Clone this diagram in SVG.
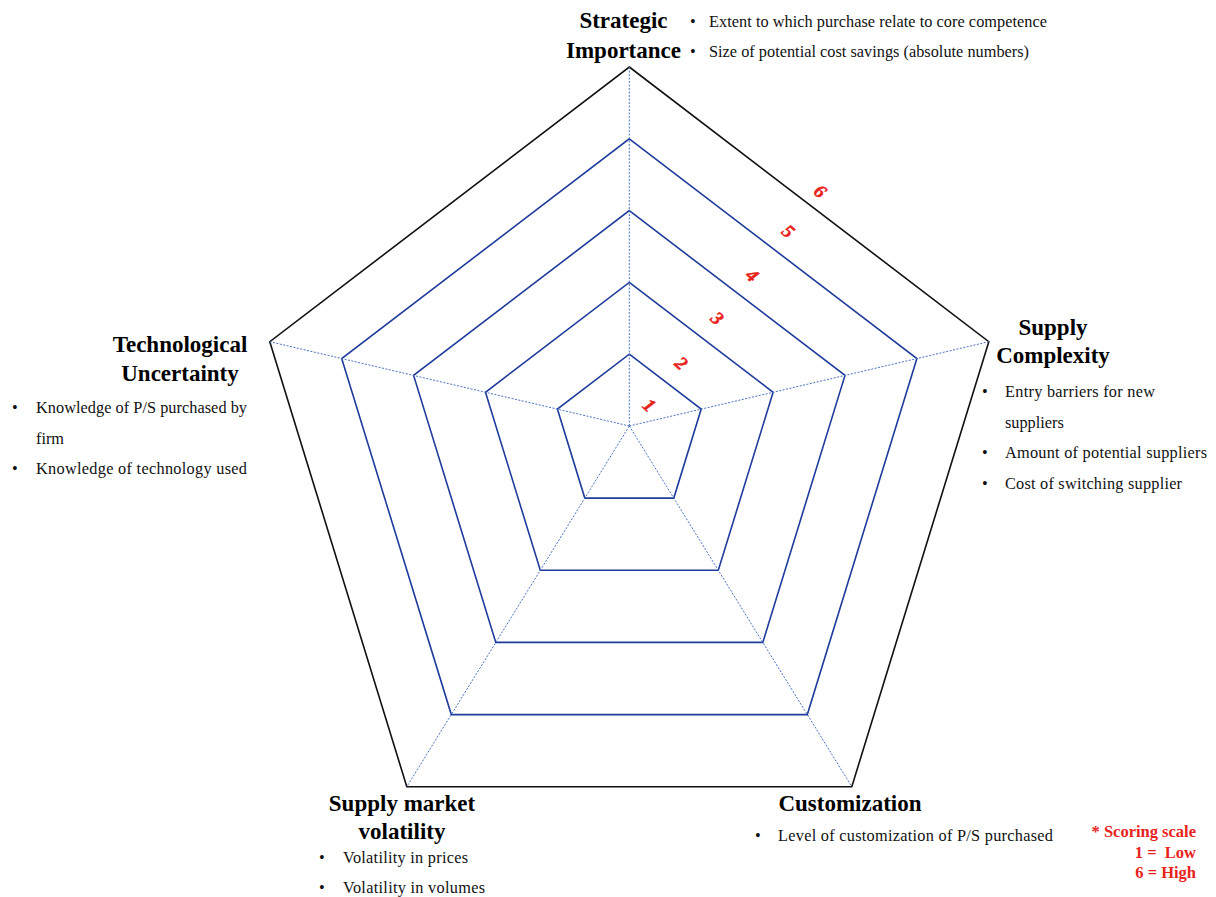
<svg xmlns="http://www.w3.org/2000/svg" width="1216" height="897" viewBox="0 0 1216 897">
<style>
.ring{fill:none;stroke:#1f3c9c;stroke-width:1.6}
.outer{fill:none;stroke:#111;stroke-width:1.6}
.spoke{stroke:#4a72c2;stroke-width:1;stroke-dasharray:2 1.5}
.title{font-family:"Liberation Serif","Times New Roman",serif;font-weight:bold;font-size:23px;fill:#000;text-anchor:middle}
.item{font-family:"Liberation Serif","Times New Roman",serif;font-size:16.3px;fill:#111}
.num{font-family:"Liberation Serif","Times New Roman",serif;font-weight:bold;font-style:italic;font-size:19px;fill:#e8231b;stroke:#e8231b;stroke-width:0.5;text-anchor:middle}
.scale{font-family:"Liberation Serif","Times New Roman",serif;font-weight:bold;font-size:16.5px;fill:#e8231b;text-anchor:end}
</style>
<rect width="1216" height="897" fill="#fff"/>
<g id="chart">
<polygon class="ring" points="629.3,354.2 701.2,409.1 673.8,498.1 584.8,498.1 557.4,409.1"/>
<polygon class="ring" points="629.3,282.4 773.1,392.3 718.3,570.3 540.3,570.3 485.5,392.3"/>
<polygon class="ring" points="629.3,210.6 845.0,375.4 762.8,642.4 495.8,642.4 413.6,375.4"/>
<polygon class="ring" points="629.3,138.8 916.9,358.6 807.3,714.6 451.3,714.6 341.7,358.6"/>
<polygon class="outer" points="629.3,67 988.8,341.7 851.8,786.7 406.8,786.7 269.8,341.7"/>
</g>
<g id="connectors">
<line class="spoke" x1="629.3" y1="426" x2="629.3" y2="67"/>
<line class="spoke" x1="629.3" y1="426" x2="988.8" y2="341.7"/>
<line class="spoke" x1="629.3" y1="426" x2="851.8" y2="786.7"/>
<line class="spoke" x1="629.3" y1="426" x2="406.8" y2="786.7"/>
<line class="spoke" x1="629.3" y1="426" x2="269.8" y2="341.7"/>
</g>
<g id="scale-numbers">
<text class="num" transform="translate(645,410) rotate(42)">1</text>
<text class="num" transform="translate(677,368) rotate(42)">2</text>
<text class="num" transform="translate(713,323) rotate(42)">3</text>
<text class="num" transform="translate(748,280) rotate(42)">4</text>
<text class="num" transform="translate(784,236) rotate(42)">5</text>
<text class="num" transform="translate(816,196) rotate(42)">6</text>
</g>
<g id="strategic-importance">
<text class="title" x="623.5" y="28">Strategic</text>
<text class="title" x="623.5" y="57.5">Importance</text>
<text class="item" x="690" y="26.5">•</text>
<text class="item" x="709" y="26.5" textLength="338" lengthAdjust="spacing">Extent to which purchase relate to core competence</text>
<text class="item" x="690" y="56.5">•</text>
<text class="item" x="709" y="56.5" textLength="320" lengthAdjust="spacing">Size of potential cost savings (absolute numbers)</text>
</g>
<g id="supply-complexity">
<text class="title" x="1053" y="335">Supply</text>
<text class="title" x="1053" y="363">Complexity</text>
<text class="item" x="982" y="397">•</text>
<text class="item" x="1005" y="397" textLength="150" lengthAdjust="spacing">Entry barriers for new</text>
<text class="item" x="1005" y="427.5">suppliers</text>
<text class="item" x="982" y="458">•</text>
<text class="item" x="1005" y="458" textLength="202" lengthAdjust="spacing">Amount of potential suppliers</text>
<text class="item" x="982" y="488.5">•</text>
<text class="item" x="1005" y="488.5" textLength="177" lengthAdjust="spacing">Cost of switching supplier</text>
</g>
<g id="technological-uncertainty">
<text class="title" x="180" y="352">Technological</text>
<text class="title" x="180" y="381">Uncertainty</text>
<text class="item" x="12" y="413">•</text>
<text class="item" x="36" y="413" textLength="211" lengthAdjust="spacing">Knowledge of P/S purchased by</text>
<text class="item" x="36" y="443.5">firm</text>
<text class="item" x="12" y="474">•</text>
<text class="item" x="36" y="474" textLength="211" lengthAdjust="spacing">Knowledge of technology used</text>
</g>
<g id="supply-market-volatility">
<text class="title" x="402" y="811">Supply market</text>
<text class="title" x="402" y="839">volatility</text>
<text class="item" x="319" y="863">•</text>
<text class="item" x="343" y="863" textLength="125" lengthAdjust="spacing">Volatility  in prices</text>
<text class="item" x="319" y="893">•</text>
<text class="item" x="343" y="893" textLength="142" lengthAdjust="spacing">Volatility  in volumes</text>
</g>
<g id="customization">
<text class="title" x="850" y="811">Customization</text>
<text class="item" x="755" y="841">•</text>
<text class="item" x="778" y="841" textLength="275" lengthAdjust="spacing">Level of customization of P/S purchased</text>
</g>
<g id="scoring-scale">
<text class="scale" x="1196" y="836.5">* Scoring scale</text>
<text class="scale" x="1196" y="857.5" xml:space="preserve">1 =  Low</text>
<text class="scale" x="1196" y="878">6 = High</text>
</g>
</svg>
